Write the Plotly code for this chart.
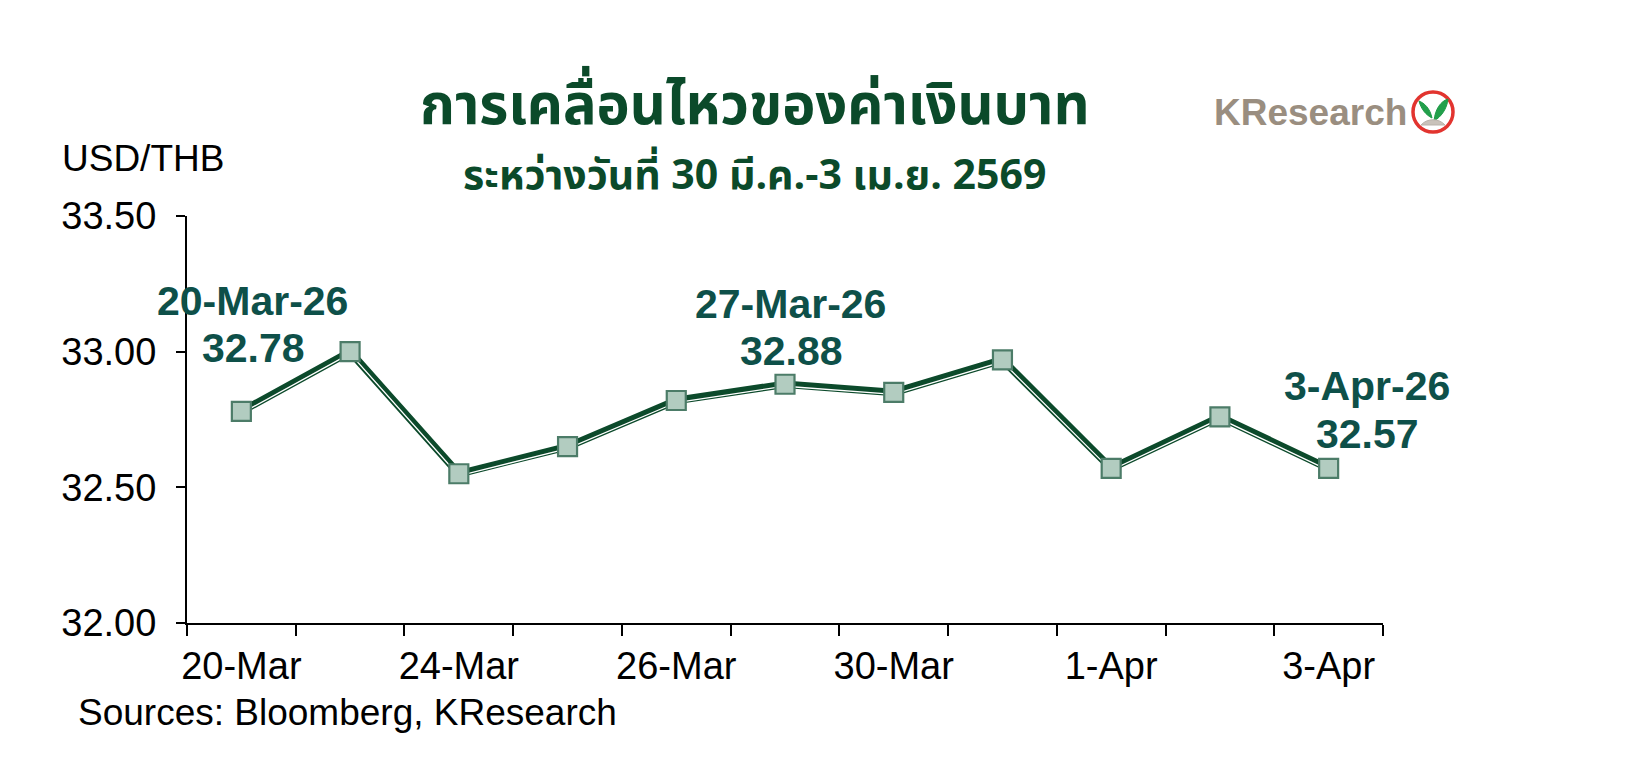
import plotly.graph_objects as go

dates = ["20-Mar", "23-Mar", "24-Mar", "25-Mar", "26-Mar", "27-Mar",
         "30-Mar", "31-Mar", "1-Apr", "2-Apr", "3-Apr"]
usd_thb = [32.78, 33.00, 32.55, 32.65, 32.82, 32.88, 32.85, 32.97, 32.57, 32.76, 32.57]
tick_labels = ["20-Mar", "24-Mar", "26-Mar", "30-Mar", "1-Apr", "3-Apr"]
tick_idx = [0, 2, 4, 6, 8, 10]
y_ticks = [32.0, 32.5, 33.0, 33.5]
callouts = [(0, "20-Mar-26"), (5, "27-Mar-26"), (10, "3-Apr-26")]

LINE = "#0c4a2b"
MFILL = "#b2ccc0"
MEDGE = "#4c7c68"
LABEL = "#0e5049"
TITLE = "#0b4a2a"
FONT = "Arial, Liberation Sans, sans-serif"
THAI = "Noto Sans Thai, Loma, Garuda, Noto Sans, sans-serif"

Y_RANGE = [32.0, 33.5]
# plot height 407 px -> tiny axis offset to draw the white inner stripe ~2 px lower
off = 2.0 * (Y_RANGE[1] - Y_RANGE[0]) / 407

xs = list(range(len(dates)))
fig = go.Figure()
fig.add_trace(go.Scatter(x=xs, y=usd_thb, mode="lines",
                         line=dict(color=LINE, width=7.5), hoverinfo="skip"))
fig.add_trace(go.Scatter(x=xs, y=usd_thb, mode="lines", yaxis="y2",
                         line=dict(color="white", width=1.3), hoverinfo="skip"))
fig.add_trace(go.Scatter(x=xs, y=usd_thb, mode="markers", text=dates, yaxis="y3",
                         marker=dict(symbol="square", size=19, color=MFILL,
                                     line=dict(color=MEDGE, width=2.2))))

shifts = {0: (11, 110, 63), 5: (5, 80, 33), 10: (38, 82, 34)}
for i, lab in callouts:
    xs_, y1, y2 = shifts[i]
    fig.add_annotation(x=i, y=usd_thb[i], xref="x", yref="y",
                       text=f"<b>{lab}</b>", showarrow=False,
                       xanchor="center", yanchor="middle", xshift=xs_, yshift=y1,
                       font=dict(family=FONT, size=41, color=LABEL))
    fig.add_annotation(x=i, y=usd_thb[i], xref="x", yref="y",
                       text=f"<b>{usd_thb[i]:.2f}</b>", showarrow=False,
                       xanchor="center", yanchor="middle", xshift=xs_ + 1, yshift=y2,
                       font=dict(family=FONT, size=41, color=LABEL))

fig.update_layout(
    width=1619, height=757,
    margin=dict(l=179, r=244, t=208, b=142),
    paper_bgcolor="white", plot_bgcolor="white",
    showlegend=False,
    font=dict(family=FONT, size=38, color="black"),
    xaxis=dict(range=[-0.5, 10.5], tickvals=tick_idx, ticktext=tick_labels,
               ticks="", showgrid=False, zeroline=False,
               showline=True, linecolor="black", linewidth=2,
               tickfont=dict(size=38), ticklabelstandoff=8,
               minor=dict(tickvals=[i - 0.5 for i in range(len(dates) + 1)],
                          ticks="outside", ticklen=11, tickwidth=2,
                          tickcolor="black", showgrid=False)),
    yaxis=dict(range=Y_RANGE, tickvals=y_ticks,
               ticktext=[f"{v:.2f}" for v in y_ticks],
               ticks="outside", ticklen=9, tickwidth=2, tickcolor="black",
               showgrid=False, zeroline=False, ticklabelstandoff=12,
               showline=True, linecolor="black", linewidth=2,
               tickfont=dict(size=38)),
    yaxis2=dict(range=[Y_RANGE[0] + off, Y_RANGE[1] + off], overlaying="y",
                visible=False, showgrid=False, zeroline=False),
    yaxis3=dict(range=Y_RANGE, overlaying="y",
                visible=False, showgrid=False, zeroline=False),
)

fig.add_annotation(text="<b>การเคลื่อนไหวของค่าเงินบาท</b>", xref="paper", yref="paper",
                   x=(754 - 187) / 1196, y=1 + (216 - 107) / 407, showarrow=False,
                   xanchor="center", yanchor="middle",
                   font=dict(family=THAI, size=56, color=TITLE))
fig.add_annotation(text="<b>ระหว่างวันที่ 30 มี.ค.-3 เม.ย. 2569</b>", xref="paper", yref="paper",
                   x=(754 - 187) / 1196, y=1 + (216 - 176) / 407, showarrow=False,
                   xanchor="center", yanchor="middle",
                   font=dict(family=THAI, size=41, color=TITLE))
fig.add_annotation(text="USD/THB", xref="paper", yref="paper",
                   x=(60 - 187) / 1196, y=1 + (216 - 158) / 407, showarrow=False,
                   xanchor="left", yanchor="middle",
                   font=dict(family=FONT, size=37, color="black"))
fig.add_annotation(text="Sources: Bloomberg, KResearch", xref="paper", yref="paper",
                   x=(76 - 187) / 1196, y=-(712 - 623) / 407, showarrow=False,
                   xanchor="left", yanchor="middle",
                   font=dict(family=FONT, size=37, color="black"))

# KResearch logo
lx = (1433 - 187) / 1196
ly = 1 + (216 - 112) / 407
fig.add_annotation(text="<b>KResearch</b>", xref="paper", yref="paper",
                   x=(1409 - 187) / 1196, y=ly, showarrow=False,
                   xanchor="right", yanchor="middle",
                   font=dict(family="Liberation Sans Narrow, Arial Narrow, Arial", size=37, color="#9a8e80"))
fig.add_shape(type="circle", xref="paper", yref="paper", xsizemode="pixel", ysizemode="pixel",
              xanchor=lx, yanchor=ly, x0=-20, x1=20, y0=-20, y1=20,
              line=dict(color="#e2342f", width=3.5), fillcolor="white")
fig.add_shape(type="path", xref="paper", yref="paper", xsizemode="pixel", ysizemode="pixel",
              xanchor=lx, yanchor=ly,
              path="M -1,-6 C -3,4 -9,9 -14,11 C -12,3 -7,-3 -1,-6 Z",
              line=dict(color="#1f9a48", width=1), fillcolor="#22a04b")
fig.add_shape(type="path", xref="paper", yref="paper", xsizemode="pixel", ysizemode="pixel",
              xanchor=lx, yanchor=ly,
              path="M 1,-9 C 2,3 8,11 15,13 C 14,3 8,-5 1,-9 Z",
              line=dict(color="#1f9a48", width=1), fillcolor="#22a04b")
fig.add_shape(type="path", xref="paper", yref="paper", xsizemode="pixel", ysizemode="pixel",
              xanchor=lx, yanchor=ly,
              path="M -12,-13 C -6,-6 6,-6 12,-13 Z",
              line=dict(color="#b9b2aa", width=1), fillcolor="#c9c2ba")

fig.write_html("out.html")
